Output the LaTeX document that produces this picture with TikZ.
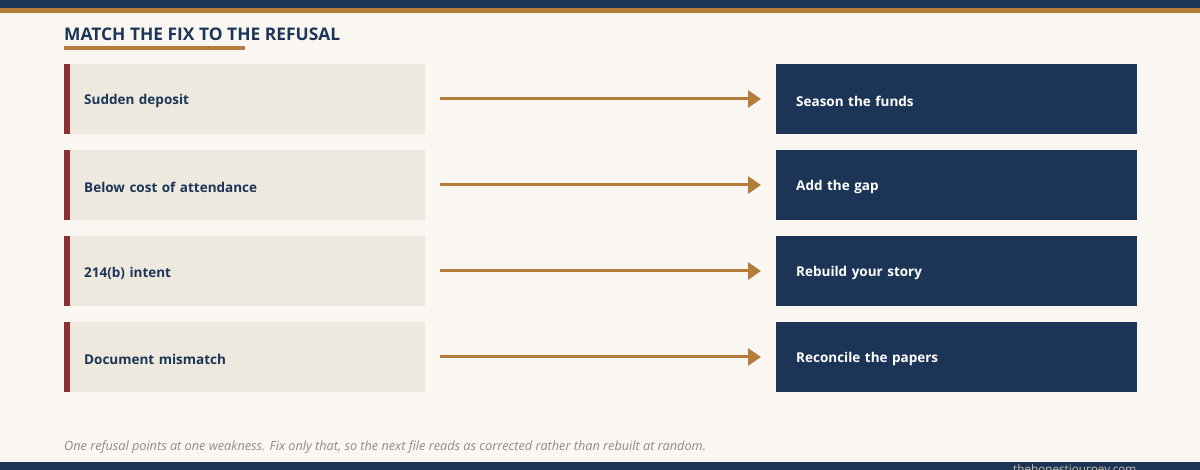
\documentclass[tikz,border=0pt]{standalone}
\usepackage{fontspec}
\setmainfont{Open Sans}
\usetikzlibrary{arrows.meta}
\definecolor{navy}{HTML}{1C3557}
\definecolor{gold}{HTML}{B57D3C}
\definecolor{bgc}{HTML}{FAF7F2}
\definecolor{boxc}{HTML}{EDE9DF}
\definecolor{redc}{HTML}{8B2F33}
\definecolor{grayc}{HTML}{8F8B86}
\definecolor{footc}{HTML}{C9BFA8}
\newcommand{\lowtext}[1]{\raisebox{-2pt}[\height][\depth]{#1}}
\begin{document}
\begin{tikzpicture}[x=1pt,y=-1pt,
  boxtext/.style={rectangle,minimum height=70pt,text width=321pt,inner xsep=20pt,inner ysep=0pt,align=left,anchor=west,font=\fontsize{13.5}{16}\selectfont\bfseries},
  leftbox/.style={boxtext,fill=boxc,text=navy},
  rightbox/.style={boxtext,fill=navy,text=white},
  link/.style={draw=gold,line width=3pt,-{Triangle[length=13pt,width=17pt]},shorten <=15pt,shorten >=15pt}]
\useasboundingbox (0,0) rectangle (1200,470);
\fill[bgc] (0,0) rectangle (1200,470);
\fill[navy] (0,0) rectangle (1200,8);
\fill[gold] (0,8) rectangle (1200,13);
\node[anchor=base west,inner sep=0pt,font=\fontsize{17.4}{20}\selectfont\bfseries,text=navy] (title) at (64,41) {MATCH THE FIX TO THE REFUSAL};
\fill[gold] (64,46) rectangle (245,50);
\foreach \i/\y/\l/\r in {1/99/Sudden deposit/Season the funds,2/185/Below cost of attendance/Add the gap,3/271/214(b) intent/Rebuild your story,4/357/Document mismatch/Reconcile the papers}{
  \node[leftbox] (L\i) at (64,\y) {\lowtext{\l}};
  \fill[redc] (L\i.north west) rectangle ([xshift=6pt]L\i.south west);
  \node[rightbox] (R\i) at (776,\y) {\lowtext{\r}};
  \draw[link] (L\i.east) -- (R\i.west);
}
\node[anchor=base west,inner sep=0pt,font=\fontsize{12.7}{14}\selectfont\itshape,text=grayc] (cap) at (64,450) {One refusal points at one weakness. Fix only that, so the next file reads as corrected rather than rebuilt at random.};
\fill[navy] (0,462) rectangle (1200,470);
\node[anchor=north west,inner sep=0pt,font=\fontsize{11.7}{13}\selectfont,text=footc] (foot) at (1013,464) {thehonestjourney.com};
\end{tikzpicture}
\end{document}
